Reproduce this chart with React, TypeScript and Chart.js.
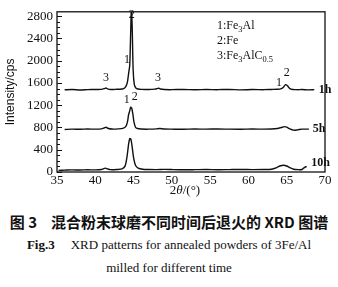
import React, { useEffect, useRef } from "react";
import { Chart, registerables } from "chart.js";

Chart.register(...registerables);

// ---------- data ----------
const twoTheta1h = [36.0, 37.0, 38.0, 39.0, 40.0, 40.8, 41.2, 41.4, 41.6, 42.0, 42.6, 43.2, 43.7, 44.0, 44.2, 44.35, 44.5, 44.62, 44.72, 44.82, 44.95, 45.1, 45.3, 45.6, 46.0, 47.0, 47.8, 48.1, 48.3, 48.5, 49.0, 50.0, 51.5, 53.0, 54.5, 56.0, 57.5, 59.0, 60.5, 62.0, 63.0, 63.8, 64.3, 64.6, 64.85, 65.1, 65.4, 65.8, 66.3, 67.0, 67.8, 68.6];
const intensity1h = [1478, 1482, 1475, 1480, 1484, 1486, 1500, 1510, 1494, 1482, 1486, 1488, 1500, 1540, 1620, 1770, 1920, 2500, 2950, 2600, 1820, 1570, 1510, 1492, 1486, 1482, 1490, 1500, 1506, 1492, 1482, 1480, 1484, 1478, 1482, 1480, 1484, 1477, 1482, 1480, 1484, 1487, 1500, 1530, 1570, 1550, 1500, 1484, 1480, 1482, 1477, 1480];

const twoTheta5h = [36.0, 37.0, 38.0, 39.0, 40.0, 40.8, 41.2, 41.4, 41.7, 42.2, 43.0, 43.6, 44.0, 44.2, 44.35, 44.5, 44.62, 44.75, 44.9, 45.05, 45.25, 45.5, 46.0, 47.0, 48.0, 48.4, 49.0, 50.0, 51.5, 53.0, 54.5, 56.0, 57.5, 59.0, 60.5, 62.0, 63.0, 63.8, 64.3, 64.7, 65.0, 65.4, 65.9, 66.4, 67.0, 67.9];
const intensity5h = [765, 770, 768, 772, 770, 775, 795, 805, 782, 772, 775, 785, 820, 900, 1030, 1100, 1165, 1150, 1050, 900, 805, 782, 772, 770, 775, 782, 772, 770, 768, 772, 770, 774, 770, 768, 772, 770, 772, 782, 800, 815, 805, 775, 752, 758, 770, 770];

const twoTheta10h = [35.2, 36.0, 37.0, 38.0, 39.0, 40.0, 40.8, 41.3, 41.6, 42.0, 42.8, 43.5, 43.9, 44.15, 44.35, 44.5, 44.65, 44.8, 45.0, 45.25, 45.6, 46.2, 47.0, 48.0, 49.0, 50.0, 51.5, 53.0, 54.5, 56.0, 57.5, 59.0, 60.5, 62.0, 63.0, 63.7, 64.2, 64.6, 65.0, 65.4, 65.9, 66.5, 67.0, 67.3, 67.6];
const intensity10h = [30, 34, 38, 35, 40, 38, 45, 70, 55, 42, 45, 55, 110, 280, 500, 600, 590, 470, 260, 120, 70, 50, 45, 42, 48, 44, 40, 42, 45, 40, 43, 46, 42, 45, 50, 80, 112, 122, 108, 78, 50, 42, 45, 80, 100];

const xTicks = [35, 40, 45, 50, 55, 60, 65, 70];
const yTicks = [0, 400, 800, 1200, 1600, 2000, 2400, 2800];

// peak markers: [2θ, intensity, label]
const peakLabels: [number, number, string][] = [
  [41.4, 1690, "3"],
  [44.15, 2010, "1"],
  [44.75, 2830, "2"],
  [48.2, 1690, "3"],
  [64.0, 1610, "1"],
  [65.0, 1790, "2"],
  [44.1, 1300, "1"],
  [45.15, 1345, "2"],
];
const seriesLabels: [number, number, string][] = [
  [69.2, 1480, "1h"],
  [68.4, 770, "5h"],
  [68.2, 170, "10h"],
];

const toPts = (xs: number[], ys: number[]) => xs.map((x, i) => ({ x, y: ys[i] }));

type Part = { t: string; sub?: boolean; it?: boolean };

function drawRich(ctx: CanvasRenderingContext2D, parts: Part[], x: number, y: number, size: number, family: string) {
  let cx = x;
  ctx.textBaseline = "middle";
  ctx.textAlign = "left";
  for (const p of parts) {
    const s = p.sub ? size * 0.7 : size;
    ctx.font = `${p.it ? "italic " : ""}${s}px ${family}`;
    ctx.fillText(p.t, cx, p.sub ? y + size * 0.3 : y);
    cx += ctx.measureText(p.t).width;
  }
}

const decorPlugin = {
  id: "decor",
  afterDatasetsDraw(chart: any) {
    const ctx: CanvasRenderingContext2D = chart.ctx;
    const { left, right, top, bottom } = chart.chartArea;
    const xs = chart.scales.x;
    const ys = chart.scales.y;
    const serif = "'Liberation Serif', 'DejaVu Serif', serif";
    ctx.save();
    ctx.strokeStyle = "#111";
    ctx.fillStyle = "#111";
    // frame
    ctx.lineWidth = 1.3;
    ctx.strokeRect(left, top, right - left, bottom - top);
    // y ticks (major + minor), inward
    ctx.lineWidth = 1;
    for (let v = 0; v <= 2800; v += 100) {
      const py = Math.round(ys.getPixelForValue(v)) + 0.5;
      const len = v % 400 === 0 ? 5 : 3;
      ctx.beginPath();
      ctx.moveTo(left, py);
      ctx.lineTo(left + len, py);
      ctx.stroke();
    }
    // peak markers
    ctx.font = `12px ${serif}`;
    ctx.textAlign = "center";
    ctx.textBaseline = "middle";
    for (const [x, y, t] of peakLabels) {
      ctx.fillText(t, xs.getPixelForValue(x), ys.getPixelForValue(y));
    }
    // series labels
    ctx.font = `bold 12px ${serif}`;
    ctx.textAlign = "left";
    for (const [x, y, t] of seriesLabels) {
      ctx.fillText(t, xs.getPixelForValue(x), ys.getPixelForValue(y));
    }
    // legend text
    const lx = 217;
    drawRich(ctx, [{ t: "1:Fe" }, { t: "3", sub: true }, { t: "Al" }], lx, top + 14, 12, serif);
    drawRich(ctx, [{ t: "2:Fe" }], lx, top + 29, 12, serif);
    drawRich(ctx, [{ t: "3:Fe" }, { t: "3", sub: true }, { t: "AlC" }, { t: "0.5", sub: true }], lx, top + 44, 12, serif);
    // y title
    ctx.save();
    ctx.translate(11, (top + bottom) / 2);
    ctx.rotate(-Math.PI / 2);
    ctx.font = "12px 'Liberation Sans', Arial, sans-serif";
    ctx.textAlign = "center";
    ctx.textBaseline = "middle";
    ctx.fillText("Intensity/cps", 0, 0);
    ctx.restore();
    // x title
    const parts: Part[] = [{ t: "2" }, { t: "θ", it: true }, { t: "/(°)" }];
    let w = 0;
    for (const p of parts) {
      ctx.font = `${p.it ? "italic " : ""}13px ${serif}`;
      w += ctx.measureText(p.t).width;
    }
    drawRich(ctx, parts, 185 - w / 2, 191, 13, serif);
    ctx.restore();
  },
};

export default function App() {
  const ref = useRef<HTMLCanvasElement>(null);
  useEffect(() => {
    if (!ref.current) return;
    const line = (xs: number[], ys: number[]) => ({
      data: toPts(xs, ys),
      borderColor: "#111",
      borderWidth: 1.4,
      pointRadius: 0,
      tension: 0.25,
      fill: false,
    });
    const chart = new Chart(ref.current, {
      type: "line",
      data: {
        datasets: [
          line(twoTheta1h, intensity1h),
          line(twoTheta5h, intensity5h),
          line(twoTheta10h, intensity10h),
        ],
      },
      options: {
        animation: false,
        responsive: false,
        devicePixelRatio: 1,
        layout: { padding: { left: 0, top: 11, right: 13, bottom: 0 } },
        plugins: { legend: { display: false }, tooltip: { enabled: false } },
        scales: {
          x: {
            type: "linear",
            min: 35,
            max: 70,
            grid: { display: false, drawTicks: false },
            border: { display: false },
            afterBuildTicks: (s: any) => {
              s.ticks = xTicks.map((v) => ({ value: v }));
            },
            afterFit: (s: any) => {
              s.height = 28;
            },
            ticks: {
              padding: 1,
              maxRotation: 0,
              autoSkip: false,
              color: "#111",
              callback: (v: any) => String(v),
              font: { family: "'Liberation Serif', serif", size: 13 },
            },
          },
          y: {
            type: "linear",
            min: 0,
            max: 2880,
            grid: { display: false, drawTicks: false },
            border: { display: false },
            afterBuildTicks: (s: any) => {
              s.ticks = yTicks.map((v) => ({ value: v }));
            },
            afterFit: (s: any) => {
              s.width = 57;
            },
            ticks: {
              padding: 4,
              autoSkip: false,
              color: "#111",
              callback: (v: any) => String(v),
              font: { family: "'Liberation Serif', serif", size: 13 },
            },
          },
        },
      },
      plugins: [decorPlugin],
    });
    return () => chart.destroy();
  }, []);

  const serif = "'Liberation Serif', 'Times New Roman', serif";
  return (
    <div style={{ position: "fixed", left: 0, top: 0, width: 338, height: 287, background: "#fff", color: "#111" }}>
      <canvas ref={ref} width={338} height={200} style={{ position: "absolute", left: 0, top: 0, width: 338, height: 200 }} />
      <div style={{ position: "absolute", left: 0, top: 212, width: 338, textAlign: "center", fontFamily: "'Noto Sans CJK SC', sans-serif", fontWeight: "bold", fontSize: 15, lineHeight: "20px", whiteSpace: "pre" }}>
        <span>图 3</span>
        <span style={{ marginLeft: 14 }}>混合粉末球磨不同时间后退火的 XRD 图谱</span>
      </div>
      <div style={{ position: "absolute", left: 0, top: 236, width: 338, textAlign: "center", fontFamily: serif, fontSize: 13, lineHeight: "18px", whiteSpace: "pre" }}>
        <span style={{ fontWeight: "bold" }}>Fig.3</span>
        <span style={{ marginLeft: 16 }}>XRD patterns for annealed powders of 3Fe/Al</span>
      </div>
      <div style={{ position: "absolute", left: 0, top: 259, width: 338, textAlign: "center", fontFamily: serif, fontSize: 13, lineHeight: "18px" }}>
        milled for different time
      </div>
    </div>
  );
}
